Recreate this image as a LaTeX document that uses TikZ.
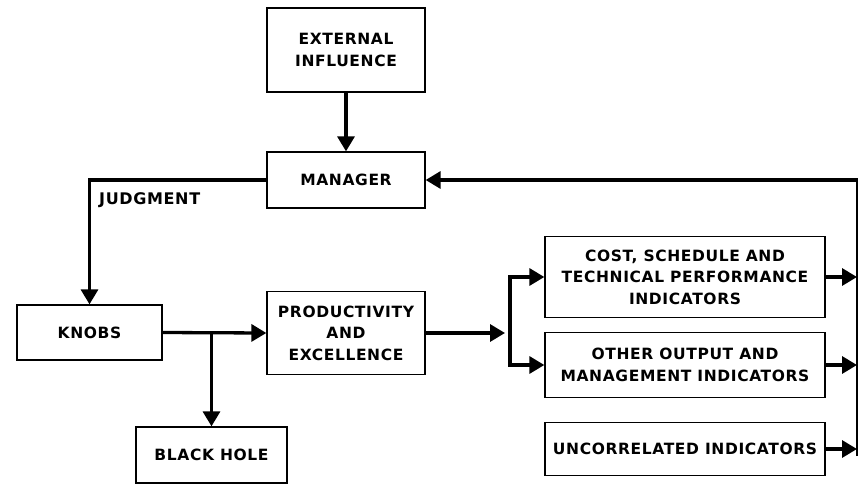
\documentclass[tikz,border=0pt]{standalone}
\usepackage{fontspec}
\setmainfont{DejaVu Sans}[LetterSpace=4]
\usetikzlibrary{arrows.meta}
\begin{document}
\begin{tikzpicture}[x=1pt,y=-1pt,
  blockbox/.style={draw, line width=1.3pt, inner sep=0pt, align=center,
    font=\fontsize{15.5}{21.5}\selectfont\bfseries},
  flow/.style={line width=3.3pt, -{Triangle[length=15pt,width=17pt]}},
  plainflow/.style={line width=3.3pt},
  thinline/.style={line width=1.2pt}]
\useasboundingbox (0,0) rectangle (859,493);

% boxes
\node[blockbox, minimum width=158pt, minimum height=84pt] (ext) at (346,50) {EXTERNAL\\INFLUENCE};
\node[blockbox, minimum width=158pt, minimum height=56pt] (mgr) at (346,180) {MANAGER};
\node[blockbox, minimum width=145pt, minimum height=55pt] (knobs) at (89.5,332.5) {KNOBS};
\node[blockbox, minimum width=158pt, minimum height=83pt] (prod) at (346,333) {PRODUCTIVITY\\AND\\EXCELLENCE};
\node[blockbox, minimum width=151pt, minimum height=56pt] (bh) at (211.5,455) {BLACK HOLE};
\node[blockbox, minimum width=280pt, minimum height=81pt] (cost) at (685,277) {COST, SCHEDULE AND\\TECHNICAL PERFORMANCE\\INDICATORS};
\node[blockbox, minimum width=280pt, minimum height=65pt] (other) at (685,365) {OTHER OUTPUT AND\\MANAGEMENT INDICATORS};
\node[blockbox, minimum width=280pt, minimum height=53pt] (unc) at (685,449) {UNCORRELATED INDICATORS};

% label
\node[anchor=west, inner sep=0pt, font=\fontsize{16}{18}\selectfont\bfseries] (judg) at (99,200) {JUDGMENT};

% coordinates for junctions and the return path
\coordinate (split) at (510,333);
\coordinate (retTop) at (857,180);
\coordinate (retBot) at (857,456);
\coordinate (costOut) at (857,277);
\coordinate (otherOut) at (857,365);
\coordinate (uncOut) at (857,449);

% connectors
\draw[flow] (ext) -- (mgr);
\draw[flow] (mgr.west) -| (knobs.north);
\draw[flow] (knobs.east) -- (prod.west);
\draw[flow] (knobs.east -| bh.north) -- (bh.north);
\draw[flow] (prod.east) -- ([xshift=-5pt]split);
\draw[plainflow] (split |- cost.west) -- (split |- other.west);
\draw[flow] ([xshift=-1.6pt]split |- cost.west) -- (cost.west);
\draw[flow] ([xshift=-1.6pt]split |- other.west) -- (other.west);
\draw[flow] (cost.east) -- (costOut);
\draw[flow] (other.east) -- (otherOut);
\draw[flow] (unc.east) -- (uncOut);
\draw[thinline] (retBot) -- (retTop);
\draw[flow] ([xshift=0.6pt]retTop) -- (mgr.east);
\end{tikzpicture}
\end{document}
